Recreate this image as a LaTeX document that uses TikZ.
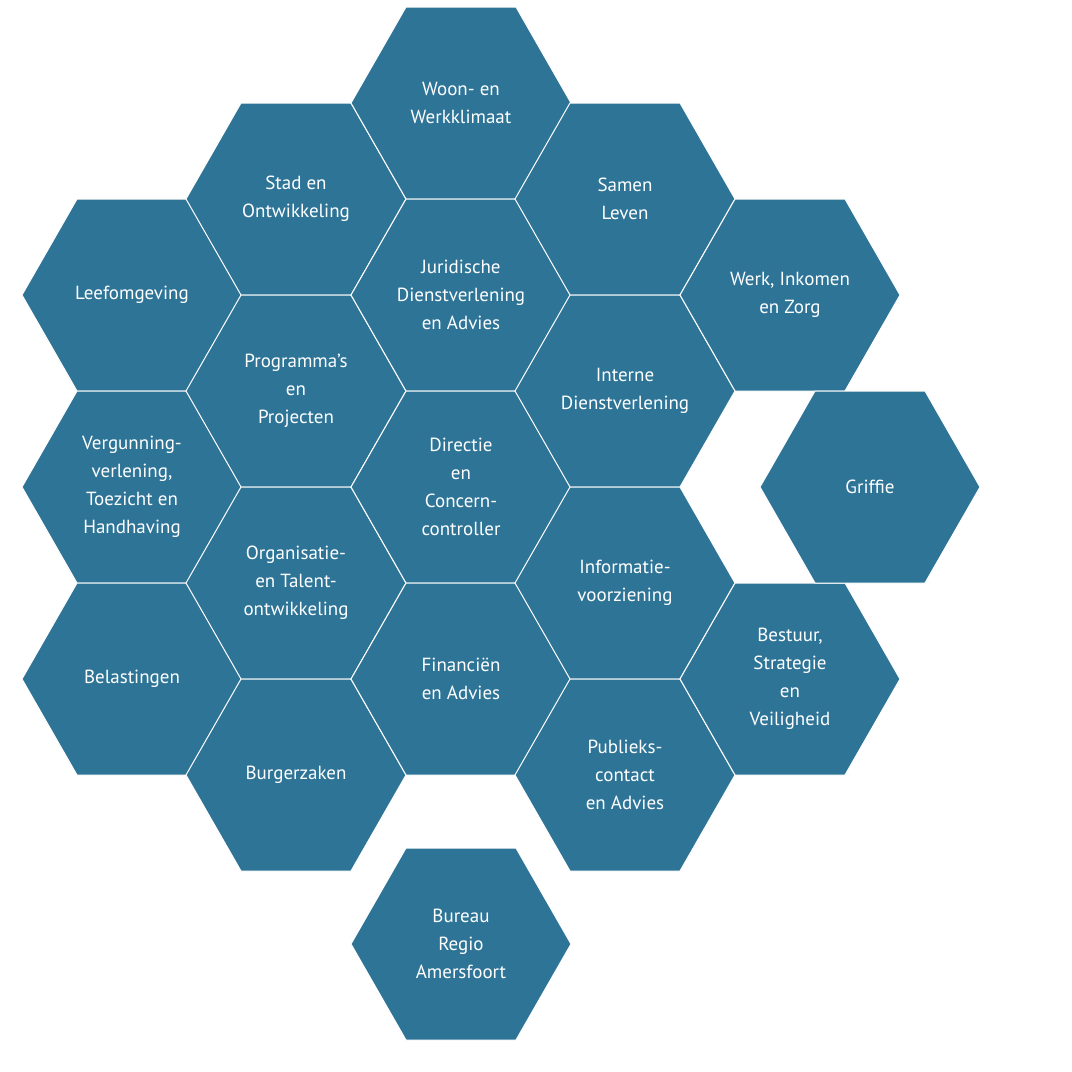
\documentclass[tikz,border=0pt]{standalone}
\usepackage{fontspec}
\setmainfont{PT Sans}
\definecolor{hexblue}{HTML}{2E7497}
\tikzset{hexlabel/.style={text=white,align=center,font=\fontsize{19}{28}\selectfont}}
\newcommand{\hexcell}[4]{%
  \fill[hexblue,draw=white,line width=1pt] (#2-110,-#3) -- (#2-55,-#3+96) -- (#2+55,-#3+96) -- (#2+110,-#3) -- (#2+55,-#3-96) -- (#2-55,-#3-96) -- cycle;
  \node[hexlabel] (#1) at (#2,-#3) {#4};}
\begin{document}
\begin{tikzpicture}[x=1pt,y=1pt]
\useasboundingbox (0,0) rectangle (1072,-1072);
\hexcell{leef}{132}{295}{Leefomgeving}
\hexcell{verg}{132}{487}{Vergunning-\\verlening,\\Toezicht en\\Handhaving}
\hexcell{bel}{132}{679}{Belastingen}
\hexcell{stad}{296}{199}{Stad en\\Ontwikkeling}
\hexcell{prog}{296}{391}{Programma’s\\en\\Projecten}
\hexcell{org}{296}{583}{Organisatie-\\en Talent-\\ontwikkeling}
\hexcell{burg}{296}{775}{Burgerzaken}
\hexcell{woon}{461}{103}{Woon- en\\Werkklimaat}
\hexcell{jur}{461}{295}{Juridische\\Dienstverlening\\en Advies}
\hexcell{dir}{461}{487}{Directie\\en\\Concern-\\controller}
\hexcell{fin}{461}{679}{Financiën\\en Advies}
\hexcell{bur}{461}{944}{Bureau\\Regio\\Amersfoort}
\hexcell{sam}{625}{199}{Samen\\Leven}
\hexcell{int}{625}{391}{Interne\\Dienstverlening}
\hexcell{inf}{625}{583}{Informatie-\\voorziening}
\hexcell{pub}{625}{775}{Publieks-\\contact\\en Advies}
\hexcell{werk}{790}{295}{Werk, Inkomen\\en Zorg}
\hexcell{best}{790}{679}{Bestuur,\\Strategie\\en\\Veiligheid}
\hexcell{grif}{870}{487}{Griffie}
\end{tikzpicture}
\end{document}
